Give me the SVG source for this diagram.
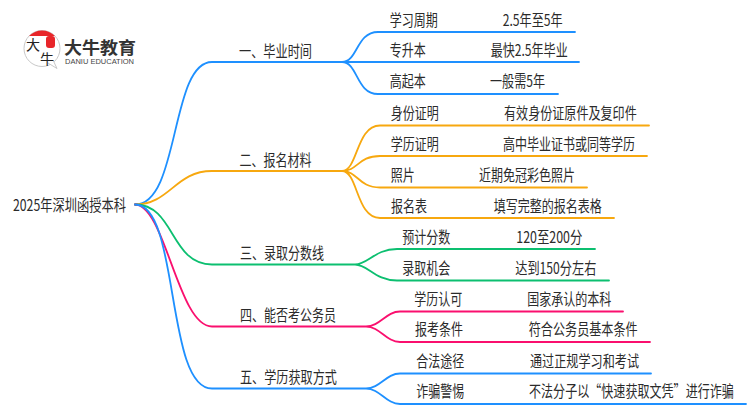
<svg xmlns="http://www.w3.org/2000/svg" width="750" height="410" viewBox="0 0 750 410">
<style>
text{font-family:"Noto Sans CJK SC","Liberation Sans",sans-serif;font-size:15.5px;fill:#2b2b2b}
.c{fill:none;stroke-width:1.800;stroke-linecap:round}
.b{stroke:#1e90ff}.o{stroke:#f7a80f}.g{stroke:#0cbf70}.p{stroke:#fa0f6e}
</style>
<rect width="750" height="410" fill="#fff"/>
<g id="connectors">
<path class="c b" d="M135 204.500C180 204.500 170 62 212 62H342C358 62 356 32 378 32H575M342 62H579M342 62C358 62 356 94 378 94H558"/>
<path class="c o" d="M135 204.500C170 204.500 175 171 212 171H342C358 171 356 125.500 380 125.500H649M342 171C358 171 358 156 380 156H647M342 171C358 171 358 187.500 380 187.500H587M342 171C358 171 356 218 380 218H614"/>
<path class="c g" d="M135 204.500C175 204.500 170 264.500 212 264.500H355C368 264.500 375 249 397 249H595M355 264.500C368 264.500 375 280.500 397 280.500H609"/>
<path class="c p" d="M135 204.500C165 204.500 178 326.500 212 326.500H366C380 326.500 386 311.500 400 311.500H623M366 326.500C380 326.500 386 342 400 342H650"/>
<path class="c b" d="M135 204.500C180 204.500 165 388.500 212 388.500H366C380 388.500 386 373.500 400 373.500H651M366 388.500C380 388.500 386 404 400 404H746"/>
</g>
<g id="logo">
<circle cx="42" cy="48.500" r="18" fill="#fff" stroke="#c9c9c9"/>
<path d="M29 36A18 18 0 0 1 55 36Z" fill="#e8262a"/>
<path d="M48 63L57 68.500L53 60" fill="#fff" stroke="#c9c9c9"/>
<rect x="46" y="36" width="9" height="12" rx="3" fill="#e8262a"/>
<text x="26" y="50" style="font-size:14px;fill:#222">大</text>
<text x="40" y="64" style="font-size:14px;fill:#222">牛</text>
<text x="64" y="54" textLength="72" lengthAdjust="spacingAndGlyphs" style="font-size:17px;font-weight:700;fill:#333">大牛教育</text>
<text x="65" y="64" textLength="69" lengthAdjust="spacingAndGlyphs" style="font-family:'Liberation Sans',sans-serif;font-size:7px;fill:#444">DANIU EDUCATION</text>
</g>
<g id="root"><text x="13" y="210.500" textLength="113" lengthAdjust="spacingAndGlyphs">2025年深圳函授本科</text></g>
<g id="b1">
<text x="239" y="57" textLength="73" lengthAdjust="spacingAndGlyphs">一、毕业时间</text>
<text x="389.700" y="25.500" textLength="48" lengthAdjust="spacingAndGlyphs">学习周期</text>
<text x="502.700" y="25.500" textLength="60" lengthAdjust="spacingAndGlyphs">2.5年至5年</text>
<text x="389.700" y="56" textLength="36" lengthAdjust="spacingAndGlyphs">专升本</text>
<text x="490.700" y="56" textLength="77" lengthAdjust="spacingAndGlyphs">最快2.5年毕业</text>
<text x="389.700" y="87" textLength="36" lengthAdjust="spacingAndGlyphs">高起本</text>
<text x="490" y="87" textLength="55" lengthAdjust="spacingAndGlyphs">一般需5年</text>
</g>
<g id="b2">
<text x="239.500" y="166" textLength="72" lengthAdjust="spacingAndGlyphs">二、报名材料</text>
<text x="390.700" y="119" textLength="48" lengthAdjust="spacingAndGlyphs">身份证明</text>
<text x="504" y="119" textLength="132.700" lengthAdjust="spacingAndGlyphs">有效身份证原件及复印件</text>
<text x="390.700" y="150" textLength="48" lengthAdjust="spacingAndGlyphs">学历证明</text>
<text x="503" y="150" textLength="132" lengthAdjust="spacingAndGlyphs">高中毕业证书或同等学历</text>
<text x="390.700" y="181" textLength="24" lengthAdjust="spacingAndGlyphs">照片</text>
<text x="479" y="181" textLength="96" lengthAdjust="spacingAndGlyphs">近期免冠彩色照片</text>
<text x="391" y="212" textLength="36" lengthAdjust="spacingAndGlyphs">报名表</text>
<text x="493.700" y="212" textLength="108" lengthAdjust="spacingAndGlyphs">填写完整的报名表格</text>
</g>
<g id="b3">
<text x="240" y="259" textLength="84" lengthAdjust="spacingAndGlyphs">三、录取分数线</text>
<text x="402.300" y="243" textLength="48" lengthAdjust="spacingAndGlyphs">预计分数</text>
<text x="516.300" y="243" textLength="66" lengthAdjust="spacingAndGlyphs">120至200分</text>
<text x="402.300" y="274" textLength="48" lengthAdjust="spacingAndGlyphs">录取机会</text>
<text x="515.300" y="274" textLength="81" lengthAdjust="spacingAndGlyphs">达到150分左右</text>
</g>
<g id="b4">
<text x="240" y="321" textLength="96" lengthAdjust="spacingAndGlyphs">四、能否考公务员</text>
<text x="414.300" y="305" textLength="48" lengthAdjust="spacingAndGlyphs">学历认可</text>
<text x="527.300" y="305" textLength="84" lengthAdjust="spacingAndGlyphs">国家承认的本科</text>
<text x="415" y="335" textLength="48" lengthAdjust="spacingAndGlyphs">报考条件</text>
<text x="528.700" y="335" textLength="109" lengthAdjust="spacingAndGlyphs">符合公务员基本条件</text>
</g>
<g id="b5">
<text x="240" y="383" textLength="97" lengthAdjust="spacingAndGlyphs">五、学历获取方式</text>
<text x="416.300" y="367" textLength="48" lengthAdjust="spacingAndGlyphs">合法途径</text>
<text x="530" y="367" textLength="109" lengthAdjust="spacingAndGlyphs">通过正规学习和考试</text>
<text x="416.300" y="397" textLength="48" lengthAdjust="spacingAndGlyphs">诈骗警惕</text>
<text transform="translate(529 397) scale(.778 1)">不法分子以“快速获取文凭”进行诈骗</text>
</g>
</svg>
